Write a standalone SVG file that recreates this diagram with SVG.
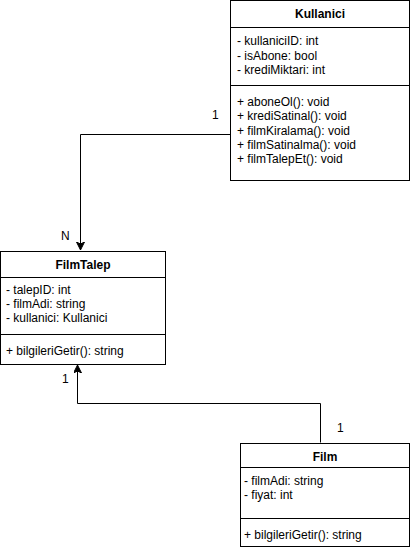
<svg xmlns="http://www.w3.org/2000/svg" width="411" height="551" viewBox="0 0 411 551">
<defs>
<style>
.box{fill:#fff;stroke:#000;stroke-width:1}
.ln{stroke:#000;stroke-width:1;fill:none}
.t{font-family:"Liberation Sans",Arial,sans-serif;font-size:12px;fill:#000}
.h{font-family:"Liberation Sans",Arial,sans-serif;font-size:12px;font-weight:bold;fill:#000;text-anchor:middle}
.c{fill:none;stroke:#000;stroke-width:1}
</style>
<marker id="arr" markerWidth="10" markerHeight="10" refX="8" refY="4" orient="auto" markerUnits="userSpaceOnUse">
<path d="M0,0 L8,4 L0,8 L2,4 Z" fill="#000" stroke="#000" stroke-width="1"/>
</marker>
</defs>
<rect width="411" height="551" fill="#fff"/>
<g id="connectors">
<path class="c" d="M230,134.5 H80.5 V250" marker-end="url(#arr)"/>
<text class="t" x="212" y="119">1</text>
<text class="t" x="61" y="240">N</text>
<path class="c" d="M320.5,442.5 V403.5 H77.5 V365" marker-end="url(#arr)"/>
<text class="t" x="62" y="383">1</text>
<text class="t" x="337" y="432">1</text>
</g>
<g id="Kullanici">
<rect class="box" x="230.5" y="0.5" width="179" height="180"/>
<line class="ln" x1="230.5" y1="27.5" x2="409.5" y2="27.5"/>
<line class="ln" x1="230.5" y1="85.5" x2="409.5" y2="85.5"/>
<text class="h" x="320" y="18">Kullanici</text>
<text class="t" x="237" y="45">- kullaniciID: int</text>
<text class="t" x="237" y="59.5">- isAbone: bool</text>
<text class="t" x="237" y="73.5">- krediMiktari: int</text>
<text class="t" x="237" y="106">+ aboneOl(): void</text>
<text class="t" x="237" y="120">+ krediSatinal(): void</text>
<text class="t" x="237" y="134.5">+ filmKiralama(): void</text>
<text class="t" x="237" y="148.5">+ filmSatinalma(): void</text>
<text class="t" x="237" y="163">+ filmTalepEt(): void</text>
</g>
<g id="FilmTalep">
<rect class="box" x="0.5" y="251.5" width="165" height="113"/>
<line class="ln" x1="0.5" y1="277.5" x2="165.5" y2="277.5"/>
<line class="ln" x1="0.5" y1="334.5" x2="165.5" y2="334.5"/>
<text class="h" x="83" y="269">FilmTalep</text>
<text class="t" x="6" y="293.5">- talepID: int</text>
<text class="t" x="6" y="308">- filmAdi: string</text>
<text class="t" x="6" y="322">- kullanici: Kullanici</text>
<text class="t" x="6" y="355">+ bilgileriGetir(): string</text>
</g>
<g id="Film">
<rect class="box" x="240.5" y="443.5" width="169" height="103"/>
<line class="ln" x1="240.5" y1="467.5" x2="409.5" y2="467.5"/>
<line class="ln" x1="240.5" y1="518.5" x2="409.5" y2="518.5"/>
<text class="h" x="325" y="461">Film</text>
<text class="t" x="244" y="485">- filmAdi: string</text>
<text class="t" x="244" y="499">- fiyat: int</text>
<text class="t" x="244" y="539">+ bilgileriGetir(): string</text>
</g>
</svg>
